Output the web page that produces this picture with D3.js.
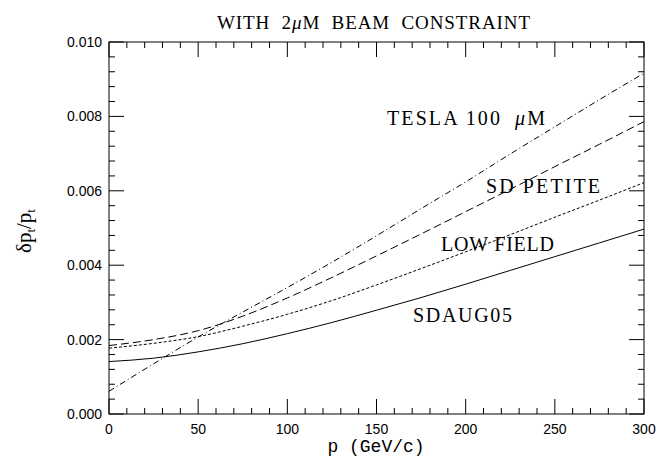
<!DOCTYPE html>
<html>
<head>
<meta charset="utf-8">
<script src="https://cdn.jsdelivr.net/npm/d3@7.9.0/dist/d3.min.js"></script>
<style>
  body { margin: 0; background: #fff; }
  svg { display: block; }
</style>
</head>
<body>
<svg id="chart" width="658" height="459"></svg>
<script>
// momentum values (GeV/c)
const momentum = [0, 25, 50, 75, 100, 125, 150, 175, 200, 225, 250, 275, 300];

// resolution curves
const sdaug05   = [0.00141, 0.00150, 0.00167, 0.00189, 0.00216, 0.00246, 0.00279, 0.00313, 0.00349, 0.00386, 0.00423, 0.00460, 0.00497];
const lowField  = [0.00177, 0.00190, 0.00208, 0.00236, 0.00268, 0.00305, 0.00347, 0.00391, 0.00436, 0.00482, 0.00529, 0.00575, 0.00622];
const sdPetite  = [0.00184, 0.00200, 0.00224, 0.00263, 0.00312, 0.00367, 0.00425, 0.00484, 0.00544, 0.00604, 0.00665, 0.00725, 0.00786];
const tesla     = [0.00061, 0.00135, 0.00207, 0.00274, 0.00340, 0.00408, 0.00479, 0.00552, 0.00624, 0.00699, 0.00772, 0.00845, 0.00916];

const xTicks = [0, 50, 100, 150, 200, 250, 300];
const yTicks = [0, 0.002, 0.004, 0.006, 0.008, 0.010];

const svg = d3.select('#chart');
const margin = { left: 109, right: 14, top: 42, bottom: 45 };
const W = 658, H = 459;

const x = d3.scaleLinear().domain([0, 300]).range([margin.left, W - margin.right]);
const y = d3.scaleLinear().domain([0, 0.010]).range([H - margin.bottom, margin.top]);

// frame
svg.append('rect')
  .attr('x', x(0)).attr('y', y(0.010))
  .attr('width', x(300) - x(0)).attr('height', y(0) - y(0.010))
  .attr('fill', 'none').attr('stroke', '#000').attr('stroke-width', 1);

const tickG = svg.append('g').attr('stroke', '#000').attr('stroke-width', 1);

// x ticks, bottom and top, pointing inward
d3.range(0, 301, 10).forEach((v) => {
  const len = v % 50 === 0 ? 15 : 6;
  tickG.append('line').attr('x1', x(v)).attr('x2', x(v)).attr('y1', y(0)).attr('y2', y(0) - len);
  tickG.append('line').attr('x1', x(v)).attr('x2', x(v)).attr('y1', y(0.010)).attr('y2', y(0.010) + len);
});

// y ticks, left and right
d3.range(0, 26).forEach((i) => {
  const v = i * 0.0004;
  const len = i % 5 === 0 ? 15 : 6;
  tickG.append('line').attr('x1', x(0)).attr('x2', x(0) + len).attr('y1', y(v)).attr('y2', y(v));
  tickG.append('line').attr('x1', x(300)).attr('x2', x(300) - len).attr('y1', y(v)).attr('y2', y(v));
});

// tick labels
svg.append('g').selectAll('text').data(xTicks).join('text')
  .attr('x', (d) => x(d)).attr('y', y(0) + 20)
  .attr('text-anchor', 'middle')
  .attr('font-family', 'Liberation Sans, sans-serif').attr('font-size', 14)
  .text((d) => d);

svg.append('g').selectAll('text').data(yTicks).join('text')
  .attr('x', x(0) - 7).attr('y', (d) => y(d) + 5)
  .attr('text-anchor', 'end')
  .attr('font-family', 'Liberation Sans, sans-serif').attr('font-size', 14)
  .text((d) => d3.format('.3f')(d));

// curves
const line = d3.line()
  .x((d, i) => x(momentum[i]))
  .y((d) => y(d))
  .curve(d3.curveMonotoneX);

const series = [
  { values: sdaug05, dash: null },
  { values: lowField, dash: '3,2' },
  { values: sdPetite, dash: '8,4' },
  { values: tesla, dash: '6,3,1,3' },
];

svg.append('g').selectAll('path').data(series).join('path')
  .attr('d', (d) => line(d.values))
  .attr('fill', 'none')
  .attr('stroke', '#000')
  .attr('stroke-width', 1)
  .attr('stroke-dasharray', (d) => d.dash);

// curve labels
const serif = 'Liberation Serif, serif';
const labels = [
  { text: 'TESLA 100 ', mu: true, x: 387, y: 125, w: 158 },
  { text: 'SD PETITE', x: 486, y: 193, w: 114 },
  { text: 'LOW FIELD', x: 441, y: 251, w: 113 },
  { text: 'SDAUG05', x: 413, y: 322, w: 99 },
];
labels.forEach((l) => {
  const t = svg.append('text')
    .attr('x', l.x).attr('y', l.y)
    .attr('font-family', serif).attr('font-size', 20)
    .attr('textLength', l.w).attr('lengthAdjust', 'spacing')
    .style('white-space', 'pre')
    .text(l.text);
  if (l.mu) {
    t.append('tspan').attr('dx', 6).attr('font-style', 'italic').text('μ');
    t.append('tspan').text('M');
  }
});

// title
const title = svg.append('text')
  .attr('x', 217).attr('y', 29)
  .attr('font-family', serif).attr('font-size', 19)
  .attr('textLength', 313).attr('lengthAdjust', 'spacing')
  .style('white-space', 'pre')
  .text('WITH  2');
title.append('tspan').attr('font-style', 'italic').text('μ');
title.append('tspan').text('M  BEAM  CONSTRAINT');

// x axis label
svg.append('text')
  .attr('x', 376).attr('y', 452)
  .attr('text-anchor', 'middle')
  .attr('font-family', 'Liberation Mono, monospace').attr('font-size', 18)
  .text('p (GeV/c)');

// y axis label
const yl = svg.append('text')
  .attr('transform', 'translate(31,231) rotate(-90)')
  .attr('text-anchor', 'middle')
  .attr('font-family', serif).attr('font-size', 21)
  .text('δp');
yl.append('tspan').attr('font-size', 13).attr('dy', 4).text('t');
yl.append('tspan').attr('dy', -4).text('/p');
yl.append('tspan').attr('font-size', 13).attr('dy', 4).text('t');
</script>
</body>
</html>
